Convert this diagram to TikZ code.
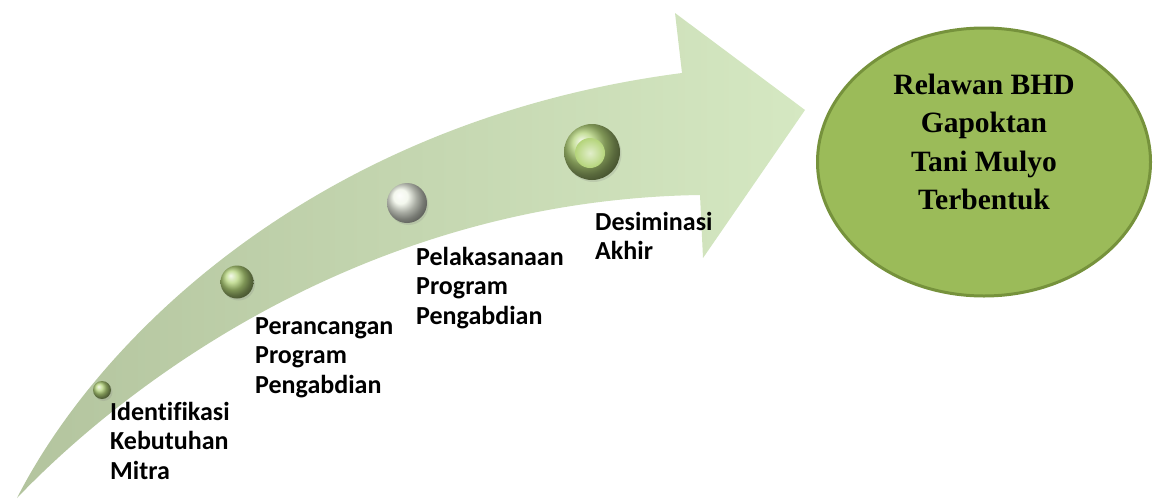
\documentclass[tikz,border=0pt]{standalone}
\usepackage{fontspec}
\setmainfont[Ligatures=CommonOff]{Carlito}
\newfontfamily\goalfont{Liberation Serif}
\usetikzlibrary{shapes.geometric, shadows, positioning}

\definecolor{arrowtail}{HTML}{B3C49E}
\definecolor{arrowhead}{HTML}{D5E8C2}
\definecolor{ballgreen}{HTML}{B4D47A}
\definecolor{ballpale}{HTML}{F0F5E8}
\definecolor{goalfill}{HTML}{9BBB59}
\definecolor{goalline}{HTML}{76923C}

\tikzset{
  stage/.style={anchor=north west, align=left, inner sep=0pt,
                font=\fontsize{26}{29.5}\selectfont\bfseries},
  bead/.style={circle, inner sep=0pt, ball color=ballgreen,
               drop shadow={opacity=0.2, shadow xshift=1.5pt, shadow yshift=-2pt}},
}

\begin{document}
\begin{tikzpicture}[x=1pt,y=-1pt]
    \useasboundingbox (0,0) rectangle (1159,501);
    % curved arrow
    \shade[left color=arrowtail, right color=arrowhead]
        (17,498) .. controls (100,335) and (320,120) .. (682,73)
        -- (675,13) -- (805,110) -- (703,258) -- (700,195)
        .. controls (370,200) and (130,380) .. (17,498) -- cycle;
    % beads on the arrow
    \node[bead, minimum size=18pt] (b1) at (102,390) {};
    \node[bead, minimum size=33pt] (b2) at (237,282) {};
    \node[bead, ball color=ballpale, minimum size=40pt] (b3) at (407,203) {};
    \node[bead, minimum size=56pt] (b4) at (592,152) {};
    \shade[inner color=ballgreen!40!white, outer color=ballgreen] ([shift={(-2,1)}]b4.center) circle (15);
    % stage labels
    \node[stage] (s1) at (110,402) {Identifikasi\\Kebutuhan\\Mitra};
    \node[stage] (s2) at (255,317) {Perancangan\\Program\\Pengabdian};
    \node[stage] (s3) at (416,247) {Pelakasanaan\\Program\\Pengabdian};
    \node[stage] (s4) at (595,212) {Desiminasi\\Akhir};
    % goal
    \node[ellipse, fill=goalfill, draw=goalline, line width=3pt,
          minimum width=333pt, minimum height=268pt] (goal) at (984,162) {};
    \node[align=center, inner sep=0pt,
          font=\goalfont\bfseries\fontsize{29.5}{38.5}\selectfont] (goaltext) at (984,142)
          {Relawan BHD\\Gapoktan\\Tani Mulyo\\Terbentuk};
\end{tikzpicture}
\end{document}
